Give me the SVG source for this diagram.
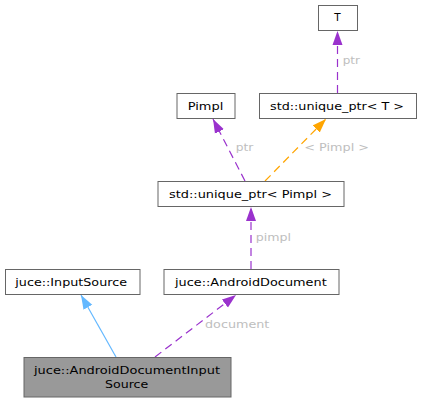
<svg xmlns="http://www.w3.org/2000/svg" width="422" height="403" viewBox="0 0 422 403">
<style>
.n{fill:#fff;stroke:#666;stroke-width:1}
.t{font-family:"DejaVu Sans",sans-serif;font-size:11px;fill:#000;text-anchor:start}
.l{font-family:"DejaVu Sans",sans-serif;font-size:11px;fill:#bebebe;text-anchor:start}
.p{fill:none;stroke:#9a32cd;stroke-width:1.2;stroke-dasharray:8,5}
.o{fill:none;stroke:#ffa500;stroke-width:1.2;stroke-dasharray:8,5}
.b{fill:none;stroke:#63b8ff;stroke-width:1.2}
</style>
<defs>
<marker id="mp" viewBox="0 0 14 11" refX="14" refY="5.5" markerWidth="14" markerHeight="11" markerUnits="userSpaceOnUse" orient="auto"><path d="M0,0.5L14,5.5L0,10.5z" fill="#9a32cd"/></marker>
<marker id="mo" viewBox="0 0 14 11" refX="14" refY="5.5" markerWidth="14" markerHeight="11" markerUnits="userSpaceOnUse" orient="auto"><path d="M0,0.5L14,5.5L0,10.5z" fill="#ffa500"/></marker>
<marker id="mb" viewBox="0 0 14 11" refX="14" refY="5.5" markerWidth="14" markerHeight="11" markerUnits="userSpaceOnUse" orient="auto"><path d="M0,0.5L14,5.5L0,10.5z" fill="#63b8ff"/></marker>
</defs>
<g id="edges">
<path class="p" d="M337.5,93L337.5,31" marker-end="url(#mp)"/>
<text class="l" x="342.7" y="64" textLength="17.3" lengthAdjust="spacingAndGlyphs">ptr</text>
<path class="p" d="M245,181L213,119" marker-end="url(#mp)"/>
<text class="l" x="235.7" y="151" textLength="17.6" lengthAdjust="spacingAndGlyphs">ptr</text>
<path class="o" d="M265,181L326,119" marker-end="url(#mo)"/>
<text class="l" x="304.3" y="151" textLength="64.7" lengthAdjust="spacingAndGlyphs">&lt; Pimpl &gt;</text>
<path class="p" d="M251,269L251,207" marker-end="url(#mp)"/>
<text class="l" x="255.7" y="241" textLength="35.3" lengthAdjust="spacingAndGlyphs">pimpl</text>
<path class="b" d="M116,357L81,295" marker-end="url(#mb)"/>
<path class="p" d="M155,357L236,295" marker-end="url(#mp)"/>
<text class="l" x="205" y="328" textLength="64.3" lengthAdjust="spacingAndGlyphs">document</text>
</g>
<g id="node-T"><rect class="n" x="318.5" y="5.5" width="39" height="25"/><text class="t" x="334.3" y="20.8" textLength="6.4" lengthAdjust="spacingAndGlyphs">T</text></g>
<g id="node-Pimpl"><rect class="n" x="177" y="93.5" width="58" height="25"/><text class="t" x="187.7" y="109.6" textLength="35.6" lengthAdjust="spacingAndGlyphs">Pimpl</text></g>
<g id="node-uptrT"><rect class="n" x="259.5" y="93.5" width="157" height="25"/><text class="t" x="270" y="109.6" textLength="134" lengthAdjust="spacingAndGlyphs">std::unique_ptr&lt; T &gt;</text></g>
<g id="node-uptrPimpl"><rect class="n" x="158" y="181.5" width="186" height="25"/><text class="t" x="169" y="197.8" textLength="163" lengthAdjust="spacingAndGlyphs">std::unique_ptr&lt; Pimpl &gt;</text></g>
<g id="node-InputSource"><rect class="n" x="5.5" y="269.5" width="134.5" height="25"/><text class="t" x="15.3" y="286" textLength="111.7" lengthAdjust="spacingAndGlyphs">juce::InputSource</text></g>
<g id="node-AndroidDocument"><rect class="n" x="164" y="269.5" width="175" height="25"/><text class="t" x="175" y="286" textLength="151.7" lengthAdjust="spacingAndGlyphs">juce::AndroidDocument</text></g>
<g id="node-ADIS"><rect x="24" y="357.5" width="207" height="39.5" fill="#999" stroke="#666"/><text class="t" x="34" y="374" textLength="186" lengthAdjust="spacingAndGlyphs">juce::AndroidDocumentInput</text><text class="t" x="105" y="387.5" textLength="43.3" lengthAdjust="spacingAndGlyphs">Source</text></g>
</svg>
